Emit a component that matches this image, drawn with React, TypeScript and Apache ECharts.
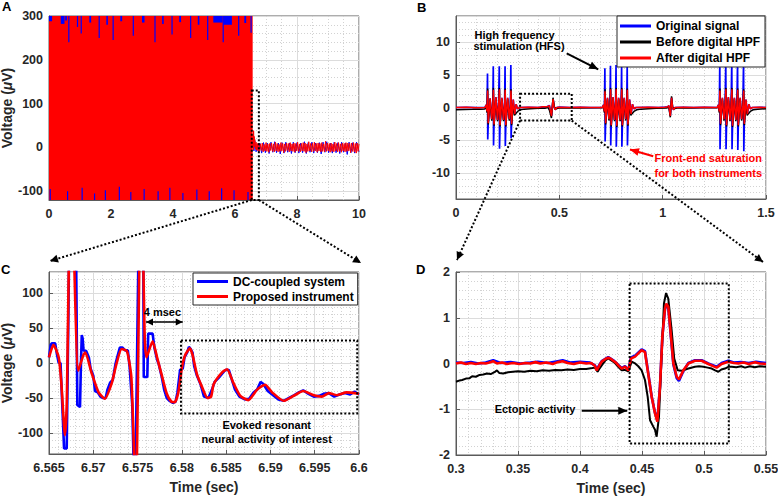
import React, { useEffect, useRef } from 'react';
import * as echarts from 'echarts';

const FONT = '"Liberation Sans", Arial, Helvetica, sans-serif';
const TXT = '#262626';
const AX = '#5a5a5a';
const BLUE = '#0000ff';
const RED = '#ff0000';
const BLACK = '#000000';

// ---------- Panel A ----------
// envelope of the saturated HFS section: [tStart, tEnd, min, max]
const A_redBlock = [[0, 6.57, -120, 300]];
// places where red stays below the top (blue visible above): [t0, t1, redMax]
const A_topGaps = [
  [0.0, 0.1, 288], [0.38, 0.5, 282], [0.52, 0.58, 290], [0.62, 0.64, 240], [0.9, 0.93, 275],
  [1.02, 1.04, 260], [1.3, 1.36, 285], [1.6, 1.62, 250], [1.85, 1.9, 280], [2.05, 2.07, 245],
  [2.3, 2.36, 288], [2.7, 2.72, 255], [3.0, 3.08, 285], [3.4, 3.42, 240], [3.65, 3.7, 282],
  [3.95, 3.97, 258], [4.2, 4.26, 286], [4.55, 4.57, 250], [4.8, 4.85, 280], [5.1, 5.12, 245],
  [5.3, 5.6, 285], [5.6, 5.62, 240], [5.62, 5.9, 280], [6.1, 6.12, 255], [6.3, 6.36, 284], [6.5, 6.52, 262],
];
// places where red stays above the bottom (blue visible below): [t0, t1, redMin]
const A_bottomGaps = [
  [0.02, 0.04, -95], [0.58, 0.6, -100], [1.05, 1.07, -92], [1.45, 1.47, -105], [1.8, 1.82, -98],
  [2.25, 2.27, -90], [2.62, 2.64, -102], [3.05, 3.07, -95], [3.5, 3.52, -100], [3.88, 3.9, -92],
  [4.3, 4.32, -104], [4.75, 4.77, -96], [5.15, 5.17, -100], [5.55, 5.57, -93], [5.95, 5.97, -98], [6.4, 6.42, -102],
];
const A_blueTail = [
  [6.57, 0], [6.59, 20], [6.61, -8], [6.64, 15], [6.68, -10], [6.72, 8], [6.76, -12], [6.8, 10], [6.86, -13],
  [6.92, 11], [6.98, -12], [7.04, 10], [7.1, -14], [7.16, 12], [7.22, -11], [7.28, 13], [7.34, -12], [7.4, 10],
  [7.46, -15], [7.52, 11], [7.58, -13], [7.64, 12], [7.7, -11], [7.76, 10], [7.82, -14], [7.88, 12], [7.94, -12],
  [8.0, 11], [8.06, -13], [8.12, 10], [8.18, -12], [8.24, 13], [8.3, -14], [8.36, 11], [8.42, -11], [8.48, 12],
  [8.54, -13], [8.6, 10], [8.66, -12], [8.72, 11], [8.78, -15], [8.84, 12], [8.9, -11], [8.96, 13], [9.02, -12],
  [9.08, 10], [9.14, -13], [9.2, 12], [9.26, -12], [9.32, 11], [9.38, -14], [9.44, 12], [9.5, -11], [9.56, 10],
  [9.62, -16], [9.68, 12], [9.74, -12], [9.8, 11], [9.86, -13], [9.92, 12], [10.0, -10],
];
const A_redTail = [
  [6.57, 0], [6.58, 30], [6.59, -5], [6.6, 38], [6.61, 10], [6.62, 25], [6.63, 2], [6.64, 18], [6.66, -4],
  [6.68, 12], [6.7, -6], [6.72, 9], [6.74, -8], [6.76, 10], [6.79, -9], [6.82, 8], [6.85, -7], [6.88, 10],
  [6.91, -10], [6.94, 7], [6.97, -8], [7.0, 11], [7.03, -9], [7.06, 8], [7.09, -11], [7.12, 9], [7.15, -7],
  [7.18, 10], [7.21, -9], [7.24, 8], [7.27, -10], [7.3, 12], [7.33, -8], [7.36, 9], [7.39, -10], [7.42, 7],
  [7.45, -9], [7.48, 11], [7.51, -8], [7.54, 9], [7.57, -12], [7.6, 8], [7.63, -9], [7.66, 10], [7.69, -7],
  [7.72, 9], [7.75, -10], [7.78, 11], [7.81, -8], [7.84, 8], [7.87, -9], [7.9, 10], [7.93, -11], [7.96, 9],
  [7.99, -8], [8.02, 12], [8.05, -9], [8.08, 8], [8.11, -10], [8.14, 9], [8.17, -8], [8.2, 11], [8.23, -9],
  [8.26, 10], [8.29, -12], [8.32, 8], [8.35, -9], [8.38, 13], [8.41, -8], [8.44, 9], [8.47, -10], [8.5, 10],
  [8.53, -9], [8.56, 12], [8.59, -8], [8.62, 9], [8.65, -11], [8.68, 10], [8.71, -8], [8.74, 9], [8.77, -10],
  [8.8, 11], [8.83, -9], [8.86, 8], [8.89, -10], [8.92, 14], [8.95, -9], [8.98, 10], [9.01, -8], [9.04, 9],
  [9.07, -11], [9.1, 10], [9.13, -9], [9.16, 8], [9.19, -10], [9.22, 12], [9.25, -8], [9.28, 9], [9.31, -10],
  [9.34, 11], [9.37, -9], [9.4, 8], [9.43, -11], [9.46, 10], [9.49, -8], [9.52, 9], [9.55, -10], [9.58, 11],
  [9.61, -9], [9.64, 10], [9.67, -8], [9.7, 9], [9.73, -12], [9.76, 10], [9.79, -9], [9.82, 11], [9.85, -10],
  [9.88, 9], [9.91, -13], [9.94, 10], [9.97, -9], [10.0, 8],
];

// ---------- Panel B ----------
const B_red = [
  [0, 0], [0.05, 0.02], [0.1, -0.02], [0.14, 0.0],
  [0.146, 0.4], [0.15, -0.6], [0.153, 2.6], [0.156, -2.4], [0.165, 1.4], [0.173, -1.8], [0.178, 0.2],
  [0.181, 2.7], [0.184, -2.6], [0.193, 1.6], [0.201, -1.9], [0.206, 0.3],
  [0.21, 2.8], [0.213, -2.7], [0.222, 1.5], [0.23, -1.9], [0.235, 0.2],
  [0.238, 2.7], [0.241, -2.7], [0.25, 1.5], [0.258, -1.8], [0.263, 0.2],
  [0.266, 2.6], [0.269, -2.5], [0.277, 1.2], [0.284, -1.0], [0.291, 0.5], [0.298, -0.2], [0.308, 0.0],
  [0.35, 0.02], [0.4, 0.0], [0.42, 0.1], [0.44, 0.1],
  [0.452, 0.3], [0.462, -1.3], [0.4696, 1.3], [0.4753, 0.0], [0.48, -0.35], [0.488, 0.0], [0.5, 0.05], [0.55, 0.0],
  [0.6, 0.02], [0.65, -0.01], [0.708, 0.0],
  [0.714, 0.4], [0.718, -0.6], [0.721, 2.5], [0.724, -2.4], [0.733, 1.5], [0.74, -1.8], [0.745, 0.2],
  [0.748, 2.8], [0.751, -2.7], [0.76, 1.6], [0.767, -1.9], [0.772, 0.3],
  [0.775, 2.8], [0.778, -2.8], [0.787, 1.5], [0.794, -1.9], [0.799, 0.2],
  [0.802, 2.8], [0.805, -2.7], [0.814, 1.5], [0.821, -1.8], [0.826, 0.2],
  [0.829, 2.7], [0.832, -2.6], [0.84, 1.2], [0.847, -1.0], [0.854, 0.5], [0.861, -0.2], [0.871, 0.0],
  [0.93, 0.02], [0.98, 0.0], [1.01, 0.05], [1.025, 0.1],
  [1.03, 0.3], [1.037, -1.3], [1.043, 1.5], [1.048, 0.0], [1.052, -0.35], [1.06, 0.0], [1.1, 0.02], [1.15, -0.01],
  [1.2, 0.02], [1.264, 0.0],
  [1.27, 0.4], [1.274, -0.6], [1.277, 2.6], [1.28, -2.5], [1.289, 1.5], [1.297, -1.8], [1.302, 0.2],
  [1.306, 2.8], [1.309, -2.7], [1.318, 1.6], [1.326, -1.9], [1.331, 0.3],
  [1.335, 2.8], [1.338, -2.8], [1.347, 1.5], [1.354, -1.9], [1.359, 0.2],
  [1.363, 2.7], [1.366, -2.7], [1.375, 1.5], [1.382, -1.8], [1.388, 0.2],
  [1.392, 2.6], [1.395, -2.5], [1.403, 1.2], [1.41, -1.0], [1.417, 0.5], [1.424, -0.2], [1.434, 0.0],
  [1.47, 0.02], [1.5, 0.0],
];
const B_black = [
  [0, -0.35], [0.04, -0.3], [0.08, -0.28], [0.12, -0.25], [0.14, -0.22],
  [0.146, 0.3], [0.15, -0.8], [0.153, 2.9], [0.156, -2.6], [0.165, 1.2], [0.173, -2.0], [0.178, 0.0],
  [0.181, 3.0], [0.184, -2.8], [0.193, 1.4], [0.201, -2.1], [0.206, 0.1],
  [0.21, 3.0], [0.213, -2.9], [0.222, 1.3], [0.23, -2.1], [0.235, 0.0],
  [0.238, 2.9], [0.241, -2.9], [0.25, 1.3], [0.258, -2.0], [0.263, 0.0],
  [0.266, 2.8], [0.269, -2.7], [0.277, 0.6], [0.283, -1.2], [0.29, -0.9], [0.3, -0.55], [0.312, -0.35], [0.33, -0.25],
  [0.36, -0.18], [0.4, -0.13], [0.43, -0.1],
  [0.445, 0.0], [0.452, -0.4], [0.4618, -1.6], [0.4694, 1.5], [0.476, 0.1], [0.482, -0.18], [0.5, -0.08], [0.55, -0.07],
  [0.6, -0.06], [0.65, -0.05], [0.708, -0.05],
  [0.714, 0.3], [0.718, -0.8], [0.721, 2.8], [0.724, -2.6], [0.733, 1.3], [0.74, -2.0], [0.745, 0.0],
  [0.748, 3.0], [0.751, -2.9], [0.76, 1.4], [0.767, -2.1], [0.772, 0.1],
  [0.775, 3.0], [0.778, -3.0], [0.787, 1.3], [0.794, -2.1], [0.799, 0.0],
  [0.802, 3.0], [0.805, -2.9], [0.814, 1.3], [0.821, -2.0], [0.826, 0.0],
  [0.829, 2.9], [0.832, -2.8], [0.84, 0.6], [0.846, -1.2], [0.853, -0.9], [0.863, -0.55], [0.875, -0.35],
  [0.895, -0.25], [0.93, -0.18], [0.97, -0.12], [1.02, -0.08],
  [1.03, 0.1], [1.037, -1.5], [1.043, 1.7], [1.048, 0.1], [1.053, -0.2], [1.07, -0.08], [1.12, -0.06], [1.18, -0.05],
  [1.24, -0.05], [1.264, -0.04],
  [1.27, 0.3], [1.274, -0.8], [1.277, 2.9], [1.28, -2.7], [1.289, 1.3], [1.297, -2.0], [1.302, 0.0],
  [1.306, 3.0], [1.309, -2.9], [1.318, 1.4], [1.326, -2.1], [1.331, 0.1],
  [1.335, 3.0], [1.338, -3.0], [1.347, 1.3], [1.354, -2.1], [1.359, 0.0],
  [1.363, 2.9], [1.366, -2.9], [1.375, 1.3], [1.382, -2.0], [1.388, 0.0],
  [1.392, 2.8], [1.395, -2.7], [1.403, 0.6], [1.409, -1.2], [1.416, -0.9], [1.426, -0.55], [1.438, -0.35],
  [1.46, -0.25], [1.5, -0.18],
];
// stimulation artefacts in the original signal: [t, top, bottom]
const B_blueSpikes = [
  [0.153, 5.2, -4.9], [0.181, 6.3, -5.8], [0.21, 6.3, -6.3], [0.238, 6.3, -5.9], [0.266, 6.5, -4.7],
  [0.721, 6.0, -5.2], [0.748, 6.4, -5.8], [0.775, 6.5, -6.0], [0.802, 6.5, -6.0], [0.829, 6.5, -5.8],
  [1.277, 7.0, -6.4], [1.306, 7.0, -6.4], [1.335, 7.0, -6.4], [1.363, 7.0, -6.5], [1.392, 7.0, -6.7],
];

// ---------- Panel C ----------
const C_blue = [
  [6.565, 8], [6.5652, 26], [6.5653, 28], [6.5657, 28], [6.5659, 12], [6.5661, 0], [6.5663, 0], [6.5665, -60],
  [6.5667, -122], [6.567, -122], [6.5672, 80], [6.5674, 300], [6.568, 250], [6.5682, -60], [6.5685, -63],
  [6.5686, -5], [6.5687, 40], [6.5688, 35], [6.5689, 18], [6.5692, 17], [6.5695, 8], [6.5697, -8], [6.57, -18],
  [6.5702, -40], [6.5705, -42], [6.5708, -48], [6.5711, -50], [6.5714, -50], [6.5716, -38], [6.5719, -28],
  [6.5722, -24], [6.5725, -2], [6.5727, 8], [6.573, 22], [6.5733, 22], [6.5736, 18], [6.5739, 18], [6.5741, -5],
  [6.5744, -60], [6.5747, -220], [6.5752, 250], [6.5756, 300], [6.5757, -20], [6.5761, -20], [6.5762, 42],
  [6.5767, 42], [6.5769, 22], [6.5772, 5], [6.5774, -2], [6.5777, -18], [6.578, -38], [6.5783, -50], [6.5786, -54],
  [6.579, -57], [6.5793, -55], [6.5795, -42], [6.5798, -10], [6.5801, -8], [6.5803, 8], [6.5806, 15], [6.5808, 23],
  [6.581, 20], [6.5812, 15], [6.5814, -5], [6.5817, -18], [6.5821, -30], [6.5825, -48], [6.583, -50], [6.5834, -38],
  [6.5837, -27], [6.5841, -22], [6.5845, -16], [6.5849, -10], [6.5853, -10], [6.5856, -22], [6.586, -38],
  [6.5865, -48], [6.5871, -52], [6.5876, -51], [6.5881, -42], [6.5885, -38], [6.5889, -27], [6.5892, -30],
  [6.5897, -40], [6.5903, -46], [6.5909, -52], [6.5915, -54], [6.5921, -50], [6.5927, -46], [6.5932, -42],
  [6.5937, -39], [6.5943, -44], [6.5949, -48], [6.5955, -47], [6.596, -44], [6.5966, -43], [6.5972, -48],
  [6.5978, -45], [6.5984, -43], [6.599, -45], [6.5995, -41], [6.6, -45],
];
const C_red = [
  [6.565, 8], [6.5655, 26], [6.5661, 8], [6.5664, -30], [6.5668, -103], [6.567, -60], [6.5675, 300], [6.5683, -11],
  [6.5689, 12], [6.5691, 15], [6.5698, -14], [6.5706, -42], [6.5713, -51], [6.5721, -28], [6.5726, -2], [6.5732, 20],
  [6.5738, 17], [6.5743, -21], [6.5748, -200], [6.5754, 300], [6.5758, 40], [6.576, 8], [6.5767, 31], [6.5772, 8],
  [6.5777, -16], [6.5783, -44], [6.5788, -55], [6.5792, -56], [6.5796, -42], [6.58, -7], [6.5804, 12], [6.5809, 21],
  [6.5812, 12], [6.5817, -16], [6.5822, -32], [6.5829, -50], [6.5833, -48], [6.5836, -30], [6.5845, -14],
  [6.5851, -9], [6.5858, -28], [6.5866, -47], [6.5875, -53], [6.5885, -38], [6.5894, -31], [6.5902, -42],
  [6.5915, -54], [6.5926, -47], [6.5937, -40], [6.5949, -46], [6.5958, -48], [6.5966, -43], [6.5975, -46],
  [6.5986, -42], [6.6, -44],
];

// ---------- Panel D ----------
const D_blue = [
  [0.3, 0.02], [0.306, 0.01], [0.312, 0.03], [0.318, 0.0], [0.324, 0.02], [0.33, 0.07], [0.336, 0.01], [0.344, 0.03],
  [0.352, 0.0], [0.36, 0.02], [0.366, 0.04], [0.374, 0.01], [0.382, 0.05], [0.386, 0.07], [0.392, 0.02], [0.4, 0.04],
  [0.408, 0.02], [0.412, -0.04], [0.4134, -0.13], [0.4175, 0.05], [0.4228, 0.14], [0.4269, 0.07], [0.4309, -0.03],
  [0.4336, -0.1], [0.4363, -0.06], [0.439, -0.14], [0.4411, 0.13], [0.4444, 0.17], [0.4497, 0.31], [0.4524, 0.27],
  [0.4546, -0.13], [0.4578, -0.72], [0.4605, -1.08], [0.4624, -1.25], [0.4645, -0.5], [0.4664, 0.58], [0.4685, 1.18],
  [0.4696, 1.29], [0.4712, 1.22], [0.4734, 0.56], [0.4753, -0.02], [0.478, -0.32], [0.4798, -0.38], [0.4833, -0.17],
  [0.4874, 0.01], [0.4927, 0.07], [0.4981, 0.07], [0.5035, 0.0], [0.5102, -0.07], [0.5142, 0.01], [0.5196, 0.06],
  [0.524, 0.02], [0.53, 0.03], [0.536, 0.01], [0.542, 0.04], [0.55, 0.01],
];
const D_black = [
  [0.3, -0.4], [0.303, -0.37], [0.305, -0.36], [0.308, -0.33], [0.311, -0.32], [0.313, -0.28], [0.316, -0.29],
  [0.319, -0.25], [0.322, -0.24], [0.325, -0.22], [0.328, -0.23], [0.331, -0.19], [0.333, -0.15], [0.335, -0.21],
  [0.338, -0.22], [0.342, -0.19], [0.346, -0.18], [0.35, -0.17], [0.355, -0.18], [0.36, -0.16], [0.365, -0.17],
  [0.37, -0.15], [0.375, -0.16], [0.38, -0.14], [0.385, -0.15], [0.39, -0.13], [0.395, -0.14], [0.4, -0.12],
  [0.405, -0.12], [0.41, -0.1], [0.412, -0.09], [0.4142, -0.18], [0.416, -0.1], [0.4175, -0.04], [0.4205, 0.07],
  [0.4228, 0.11], [0.4255, 0.06], [0.4282, 0.01], [0.431, -0.08], [0.4336, -0.15], [0.436, -0.14], [0.439, -0.17],
  [0.4417, 0.04], [0.444, 0.01], [0.447, -0.06], [0.4497, -0.15], [0.4524, -0.36], [0.4546, -0.73], [0.4565, -1.24],
  [0.4591, -1.38], [0.4605, -1.45], [0.4618, -1.6], [0.4637, -1.16], [0.4659, 0.22], [0.4677, 1.31], [0.4694, 1.54],
  [0.4712, 1.42], [0.4739, 0.73], [0.476, 0.11], [0.4788, -0.15], [0.482, -0.16], [0.485, -0.13], [0.4874, -0.11],
  [0.4927, -0.07], [0.496, -0.06], [0.4995, -0.07], [0.503, -0.09], [0.5062, -0.11], [0.509, -0.15], [0.5116, -0.18],
  [0.514, -0.13], [0.5169, -0.11], [0.52, -0.07], [0.5223, -0.07], [0.526, -0.08], [0.53, -0.06], [0.5331, -0.09],
  [0.537, -0.06], [0.541, -0.08], [0.545, -0.06], [0.55, -0.07],
];
const D_red = [
  [0.3, 0.0], [0.304, 0.02], [0.308, -0.01], [0.312, 0.01], [0.316, -0.01], [0.32, 0.01], [0.324, 0.0], [0.327, 0.02],
  [0.33, 0.05], [0.333, 0.0], [0.337, 0.02], [0.341, -0.01], [0.346, 0.01], [0.351, -0.01], [0.356, 0.01], [0.36, 0.0],
  [0.364, 0.03], [0.368, 0.0], [0.373, 0.02], [0.378, -0.01], [0.382, 0.03], [0.386, 0.05], [0.39, 0.01], [0.395, -0.01],
  [0.4, 0.02], [0.405, 0.0], [0.409, 0.01], [0.412, -0.05], [0.4134, -0.15], [0.4155, -0.05], [0.4175, 0.04],
  [0.4205, 0.1], [0.4228, 0.13], [0.425, 0.1], [0.4269, 0.06], [0.429, 0.02], [0.4309, -0.04], [0.4336, -0.11],
  [0.4363, -0.07], [0.439, -0.15], [0.4411, 0.11], [0.4444, 0.15], [0.447, 0.22], [0.4497, 0.29], [0.4524, 0.25],
  [0.4546, -0.15], [0.4578, -0.73], [0.4605, -1.09], [0.4624, -1.27], [0.4645, -0.51], [0.4664, 0.58], [0.4685, 1.2],
  [0.4696, 1.31], [0.4712, 1.24], [0.4734, 0.58], [0.4753, 0.0], [0.478, -0.29], [0.4798, -0.35], [0.4833, -0.15],
  [0.4874, 0.0], [0.4927, 0.06], [0.4981, 0.06], [0.5035, -0.01], [0.5102, -0.09], [0.5142, -0.01], [0.5196, 0.04],
  [0.524, 0.01], [0.5277, 0.0], [0.532, 0.02], [0.536, -0.01], [0.5411, 0.03], [0.545, 0.0], [0.55, -0.01],
];

// ---------- helpers ----------
function buildBlueB() {
  const pts: number[][] = B_red.map((p) => [p[0], p[1]]);
  for (const s of B_blueSpikes) {
    pts.push([s[0] - 0.0006, s[1]]);
    pts.push([s[0] + 0.0006, s[2]]);
  }
  pts.sort((a, b) => a[0] - b[0]);
  return pts;
}

const labelStyle = { color: TXT, fontSize: 12.5, fontWeight: 'bold', fontFamily: FONT };
const nameStyle = {
  color: TXT, fontSize: 14, fontWeight: 'bold', fontFamily: FONT,
  rich: { i: { fontStyle: 'italic', fontWeight: 'bold', fontSize: 14, fontFamily: FONT, color: TXT } },
};

function mkAxis(gi: number, min: number, max: number, interval: number | undefined, minor: number, extra: any = {}) {
  return {
    type: 'value', gridIndex: gi, min, max, interval,
    axisLine: { show: true, onZero: false, lineStyle: { color: AX, width: 1 } },
    axisTick: { show: true, inside: true, length: 4, lineStyle: { color: AX } },
    axisLabel: { ...labelStyle, margin: 7, showMinLabel: true, showMaxLabel: true },
    splitLine: { show: true, lineStyle: { color: '#dcdcdc', width: 1 } },
    minorTick: { show: false, splitNumber: minor },
    minorSplitLine: { show: true, lineStyle: { color: '#d2d2d2', width: 1, type: [1, 2] } },
    ...extra,
  };
}

const gridStyle = {
  show: true, borderColor: AX, borderWidth: 1, backgroundColor: '#fff', containLabel: false, outerBoundsMode: 'none',
};

function lineSeries(name: string, xi: number, data: number[][], color: string, width: number, extra: any = {}) {
  return {
    name, type: 'line', xAxisIndex: xi, yAxisIndex: xi, data, showSymbol: false, symbol: 'none',
    lineStyle: { color, width }, itemStyle: { color }, silent: true, ...extra,
  };
}

function rectRender(color: string) {
  return (params: any, api: any) => {
    const a = api.coord([api.value(0), api.value(3)]);
    const b = api.coord([api.value(1), api.value(2)]);
    return { type: 'rect', shape: { x: a[0], y: a[1], width: b[0] - a[0], height: b[1] - a[1] }, style: { fill: color } };
  };
}
function gapRender(top: boolean) {
  return (params: any, api: any) => {
    const cs = params.coordSys;
    const a = api.coord([api.value(0), api.value(2)]);
    const b = api.coord([api.value(1), api.value(2)]);
    const w = Math.max(b[0] - a[0], 1.2);
    const y0 = top ? cs.y : a[1];
    const y1 = top ? a[1] : cs.y + cs.height;
    return { type: 'rect', shape: { x: a[0], y: y0, width: w, height: y1 - y0 }, style: { fill: BLUE } };
  };
}

function head(x1: number, y1: number, x2: number, y2: number, color: string, len = 8, half = 3.5) {
  const dx = x2 - x1, dy = y2 - y1, L = Math.hypot(dx, dy) || 1;
  const ux = dx / L, uy = dy / L;
  const bx = x2 - ux * len, by = y2 - uy * len;
  return {
    type: 'polygon', z: 100,
    shape: { points: [[x2, y2], [bx - uy * half, by + ux * half], [bx + uy * half, by - ux * half]] },
    style: { fill: color },
  };
}
function arrow(p1: number[], p2: number[], color: string, width: number, dash: number[] | null, both = false, len = 8, half = 3.5) {
  const els: any[] = [{
    type: 'line', z: 100,
    shape: { x1: p1[0], y1: p1[1], x2: p2[0], y2: p2[1] },
    style: { stroke: color, lineWidth: width, lineDash: dash || undefined },
  }];
  els.push(head(p1[0], p1[1], p2[0], p2[1], color, len, half));
  if (both) els.push(head(p2[0], p2[1], p1[0], p1[1], color, len, half));
  return els;
}
function txt(p: number[], text: string, size: number, color = BLACK, align = 'center') {
  return {
    type: 'text', z: 101, x: p[0], y: p[1],
    style: { text, fill: color, fontSize: size, fontWeight: 'bold', fontFamily: FONT, align, verticalAlign: 'middle' },
  };
}
function dottedRect(a: number[], b: number[]) {
  return {
    type: 'rect', z: 100,
    shape: { x: Math.min(a[0], b[0]), y: Math.min(a[1], b[1]), width: Math.abs(b[0] - a[0]), height: Math.abs(b[1] - a[1]) },
    style: { fill: 'none', stroke: BLACK, lineWidth: 2, lineDash: [2, 2] },
  };
}

export default function App() {
  const ref = useRef<HTMLDivElement>(null);
  useEffect(() => {
    if (!ref.current) return;
    const chart = echarts.init(ref.current, null, { renderer: 'svg' });
    const legendText = { fontFamily: FONT, fontWeight: 'bold', fontSize: 12, color: '#000' };
    const option: any = {
      animation: false,
      backgroundColor: '#fff',
      textStyle: { fontFamily: FONT },
      grid: [
        { left: 49, top: 16, width: 310, height: 184, ...gridStyle },
        { left: 456, top: 16, width: 310, height: 183, ...gridStyle },
        { left: 49, top: 272, width: 310, height: 182, ...gridStyle },
        { left: 456, top: 272, width: 310, height: 183, ...gridStyle },
      ],
      xAxis: [
        mkAxis(0, 0, 10, 2, 4),
        mkAxis(1, 0, 1.5, 0.5, 5),
        mkAxis(2, 6.565, 6.6, 0.005, 5, {
          name: 'Time (sec)', nameLocation: 'middle', nameGap: 26, nameTextStyle: nameStyle,
        }),
        mkAxis(3, 0.3, 0.55, 0.05, 5, {
          name: 'Time (sec)', nameLocation: 'middle', nameGap: 26, nameTextStyle: nameStyle,
        }),
      ],
      yAxis: [
        mkAxis(0, -120, 300, undefined, 5, {
          name: 'Voltage ({i|μ}V)', nameLocation: 'middle', nameGap: 34, nameRotate: 90, nameTextStyle: nameStyle,
          axisLabel: { ...labelStyle, margin: 6, showMinLabel: false },
        }),
        mkAxis(1, -14, 14, undefined, 5, {
          axisLabel: { ...labelStyle, margin: 6, showMinLabel: false, showMaxLabel: false },
        }),
        mkAxis(2, -130, 130, undefined, 5, {
          name: 'Voltage ({i|μ}V)', nameLocation: 'middle', nameGap: 34, nameRotate: 90, nameTextStyle: nameStyle,
          axisLabel: { ...labelStyle, margin: 6, showMinLabel: false, showMaxLabel: false },
        }),
        mkAxis(3, -2, 2, 1, 5, { axisLabel: { ...labelStyle, margin: 6 } }),
      ],
      legend: [
        {
          orient: 'vertical', left: 617, top: 16, itemWidth: 31, itemHeight: 3, itemGap: 2, icon: 'rect',
          padding: [3, 5, 2, 3], backgroundColor: '#fff', borderColor: '#262626', borderWidth: 1,
          textStyle: { ...legendText, lineHeight: 14 }, selectedMode: false,
          data: ['Original signal', 'Before digital HPF', 'After digital HPF'],
        },
        {
          orient: 'vertical', left: 193, top: 273, itemWidth: 31, itemHeight: 3, itemGap: 2, icon: 'rect',
          padding: [2, 4, 2, 4], backgroundColor: '#fff', borderColor: '#262626', borderWidth: 1,
          textStyle: { ...legendText, lineHeight: 13 }, selectedMode: false,
          data: ['DC-coupled system', 'Proposed instrument'],
        },
      ],
      series: [
        {
          name: 'A red envelope', type: 'custom', xAxisIndex: 0, yAxisIndex: 0, clip: true, silent: true,
          encode: { x: [0, 1], y: [2, 3] }, data: A_redBlock, renderItem: rectRender(RED),
        },
        {
          name: 'A top gaps', type: 'custom', xAxisIndex: 0, yAxisIndex: 0, clip: true, silent: true,
          encode: { x: [0, 1], y: 2 }, data: A_topGaps, renderItem: gapRender(true),
        },
        {
          name: 'A bottom gaps', type: 'custom', xAxisIndex: 0, yAxisIndex: 0, clip: true, silent: true,
          encode: { x: [0, 1], y: 2 }, data: A_bottomGaps, renderItem: gapRender(false),
        },
        lineSeries('A blue tail', 0, A_blueTail, BLUE, 1),
        lineSeries('A red tail', 0, A_redTail, RED, 1),
        lineSeries('Original signal', 1, buildBlueB(), BLUE, 1.7),
        lineSeries('Before digital HPF', 1, B_black, BLACK, 1.5),
        lineSeries('After digital HPF', 1, B_red, RED, 1.5),
        lineSeries('DC-coupled system', 2, C_blue, BLUE, 2.6),
        lineSeries('Proposed instrument', 2, C_red, RED, 2.6, { smooth: 0.2 }),
        lineSeries('D original', 3, D_blue, BLUE, 2.6),
        lineSeries('D before', 3, D_black, BLACK, 2),
        lineSeries('D after', 3, D_red, RED, 2.6),
      ],
    };
    chart.setOption(option);

    const px = (gi: number, pt: number[]) => chart.convertToPixel({ gridIndex: gi } as any, pt) as unknown as number[];
    const els: any[] = [];
    // panel letters
    els.push({ type: 'text', z: 101, left: 2, top: 0, style: { text: 'A', fill: BLACK, fontSize: 13, fontWeight: 'bold', fontFamily: FONT } });
    els.push({ type: 'text', z: 101, left: 417, top: 1, style: { text: 'B', fill: BLACK, fontSize: 13, fontWeight: 'bold', fontFamily: FONT } });
    els.push({ type: 'text', z: 101, left: 1, top: 263, style: { text: 'C', fill: BLACK, fontSize: 13, fontWeight: 'bold', fontFamily: FONT } });
    els.push({ type: 'text', z: 101, left: 416, top: 263, style: { text: 'D', fill: BLACK, fontSize: 13, fontWeight: 'bold', fontFamily: FONT } });

    // A zoom box and connectors to C
    const aTL = px(0, [6.54, 130]);
    const aBR = px(0, [6.77, -120]);
    els.push(dottedRect(aTL, aBR));
    const cTL = px(2, [6.565, 130]);
    const cTR = px(2, [6.6, 130]);
    els.push(...arrow([aTL[0], aBR[1]], [cTL[0] + 1, cTL[1] - 11], BLACK, 2, [2, 2], false, 8, 4));
    els.push(...arrow([aBR[0], aBR[1]], [cTR[0] + 2, cTR[1] - 9], BLACK, 2, [2, 2], false, 8, 4));

    // B zoom box and connectors to D
    const bTL = px(1, [0.31, 2.1]);
    const bBR = px(1, [0.56, -2]);
    els.push(dottedRect(bTL, bBR));
    const dTL = px(3, [0.3, 2]);
    const dTR = px(3, [0.55, 2]);
    els.push(...arrow([bTL[0], bBR[1]], [dTL[0] + 1, dTL[1] - 12], BLACK, 2, [2, 2], false, 8, 4));
    els.push(...arrow([bBR[0], bBR[1]], [dTR[0] - 3, dTR[1] - 10], BLACK, 2, [2, 2], false, 8, 4));

    // B annotations
    els.push(txt(px(1, [0.283, 11.05]), 'High frequency', 11));
    els.push(txt(px(1, [0.305, 9.38]), 'stimulation (HFS)', 11));
    els.push(...arrow(px(1, [0.5356, 8.27]), px(1, [0.6884, 5.84]), BLACK, 2, null, false, 9, 4));
    els.push(txt(px(1, [1.2206, -7.8]), 'Front-end saturation', 11, RED));
    els.push(txt(px(1, [1.2206, -9.97]), 'for both instruments', 11, RED));
    els.push(...arrow(px(1, [0.9545, -7.45]), px(1, [0.8418, -6.43]), RED, 2.2, null, false, 9, 4));

    // C annotations
    els.push(txt(px(2, [6.5778, 72.7]), '4 msec', 11));
    els.push(...arrow(px(2, [6.57595, 58.6]), px(2, [6.5801, 58.6]), BLACK, 1.5, null, true, 7, 3.5));
    els.push(dottedRect(px(2, [6.5799, 32]), px(2, [6.5998, -72])));
    els.push(txt(px(2, [6.58958, -87.9]), 'Evoked resonant', 11));
    els.push(txt(px(2, [6.58958, -109]), 'neural activity of interest', 11));

    // D annotations
    els.push(dottedRect(px(3, [0.44, 1.75]), px(3, [0.52, -1.75])));
    els.push(txt(px(3, [0.3637, -0.998]), 'Ectopic activity', 11));
    els.push(...arrow(px(3, [0.4014, -1.035]), px(3, [0.4381, -1.035]), BLACK, 2, null, false, 9, 4));

    chart.setOption({ graphic: { elements: els } });
    return () => chart.dispose();
  }, []);
  return <div ref={ref} style={{ position: 'absolute', left: 0, top: 0, width: 778, height: 496 }} />;
}
